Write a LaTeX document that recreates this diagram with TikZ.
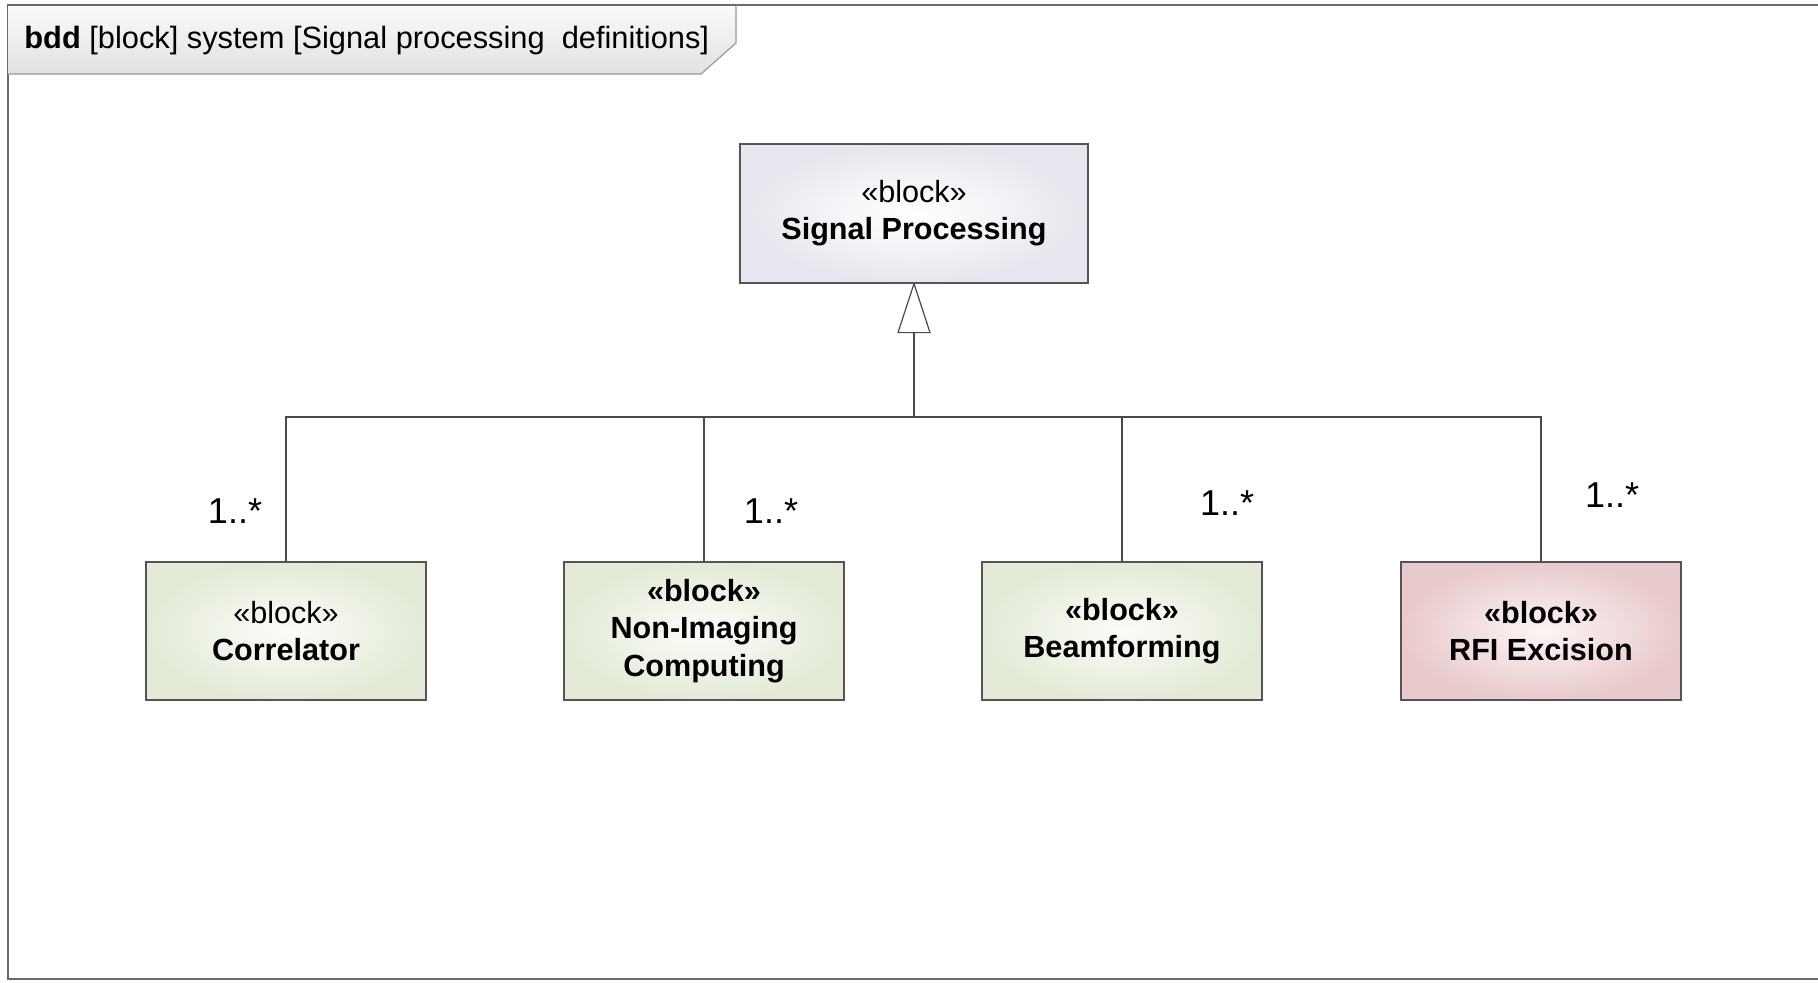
\documentclass[tikz,border=0pt]{standalone}
\usepackage{fontspec}
\setmainfont{Liberation Sans}
\usetikzlibrary{calc}

\definecolor{framegray}{HTML}{6A6A6A}
\definecolor{edgegray}{HTML}{555555}
\definecolor{wiregray}{HTML}{4A4A4A}
\definecolor{spouter}{HTML}{E8E6EE}
\definecolor{greenouter}{HTML}{E3EBD8}
\definecolor{greeninner}{HTML}{FBFCF8}
\definecolor{redouter}{HTML}{E9CACC}
\definecolor{redinner}{HTML}{FCF4F4}
\definecolor{tabtop}{HTML}{FAFAFA}
\definecolor{tabbottom}{HTML}{E2E2E2}

\tikzset{
  blockbox/.style={draw=edgegray, line width=0.6pt, align=center,
    font=\fontsize{15.3pt}{18.6pt}\selectfont, shading=radial,
    minimum width=140pt, minimum height=69pt, inner sep=0pt},
  spbox/.style={blockbox, inner color=white, outer color=spouter,
    minimum width=174pt, minimum height=69.5pt},
  greenbox/.style={blockbox, inner color=greeninner, outer color=greenouter},
  redbox/.style={blockbox, inner color=redinner, outer color=redouter},
  wire/.style={draw=wiregray, line width=0.6pt},
  mult/.style={font=\fontsize{18pt}{20pt}\selectfont, inner sep=0pt}
}

\begin{document}
\begin{tikzpicture}[x=0.5pt, y=-0.5pt]
  \useasboundingbox (0,0) rectangle (1818,982);
  \begin{scope}
    \clip (0,0) rectangle (1818,982);
    % diagram frame (open to the right)
    \draw[framegray, line width=1pt] (1830,5) -- (8,5) -- (8,979) -- (1830,979);
  \end{scope}

  % name tab of the frame
  \path[top color=tabtop, bottom color=tabbottom]
    (8,5) -- (736,5) -- (736,43) -- (701,74) -- (8,74) -- cycle;
  \draw[color=gray!80, line width=0.6pt] (736,5) -- (736,43) -- (701,74) -- (8,74);
  \draw[framegray, line width=1pt] (8,5) -- (736,5);
  \node[anchor=west, inner sep=0pt, font=\fontsize{15.4pt}{18pt}\selectfont] (title) at (24,41)
    {\textbf{bdd} [block] system [Signal processing\ \ definitions]};

  % blocks
  \node[spbox] (sp) at (914,213.5) {\raisebox{-2pt}{«block»}\\\raisebox{-2pt}{\textbf{Signal Processing}}};
  \node[greenbox] (corr) at (286,631) {«block»\\\textbf{Correlator}};
  \node[greenbox] (nic) at (704,631) {\textbf{«block»}\\\textbf{Non-Imaging}\\\textbf{Computing}};
  \node[greenbox] (beam) at (1122,631) {\textbf{«block»}\\\textbf{Beamforming}};
  \node[redbox] (rfi) at (1541,631) {\textbf{«block»}\\\textbf{RFI Excision}};

  % generalization tree
  \coordinate (tri) at ($(sp.south)+(0,49)$);
  \coordinate (bus) at (914,417);
  \draw[wire, fill=white] (sp.south) -- ($(tri)+(-16,0)$) -- ($(tri)+(16,0)$) -- cycle;
  \draw[wire] (tri) -- (bus);
  \draw[wire] (corr.north) |- (bus);
  \draw[wire] (nic.north) |- (bus);
  \draw[wire] (beam.north) |- (bus);
  \draw[wire] (rfi.north) |- (bus);

  % multiplicities
  \node[mult] (m1) at (235,511) {1..*};
  \node[mult] (m2) at (771,511) {1..*};
  \node[mult] (m3) at (1227,503) {1..*};
  \node[mult] (m4) at (1612,495) {1..*};
\end{tikzpicture}
\end{document}
